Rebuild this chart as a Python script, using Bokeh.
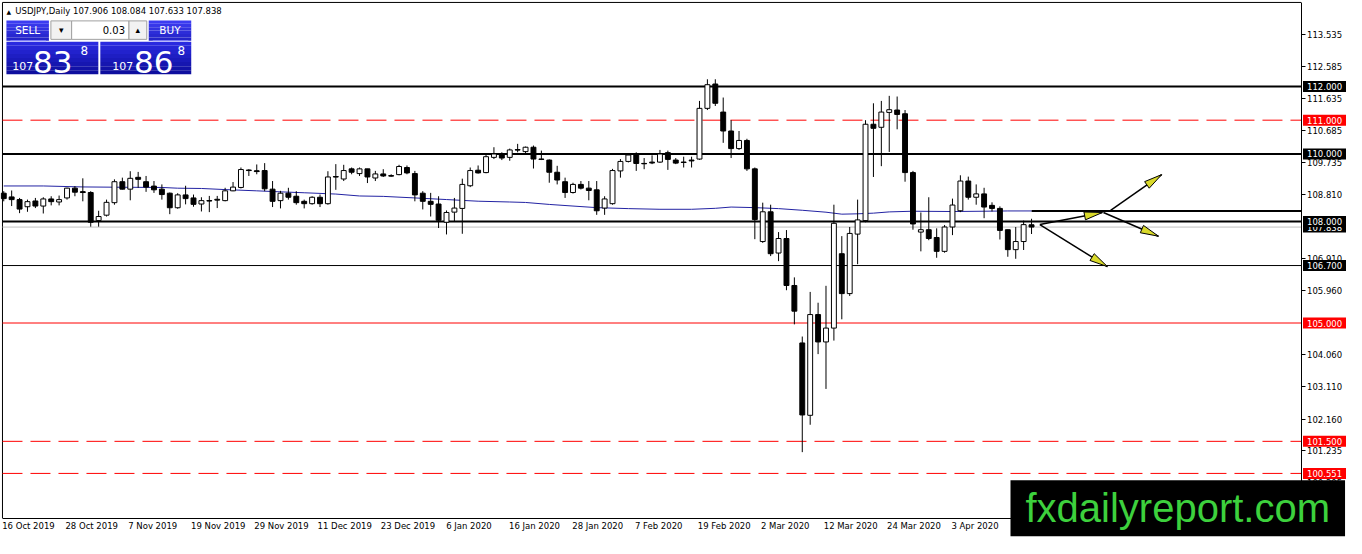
import numpy as np
from bokeh.plotting import figure
from bokeh.models import Range1d, FixedTicker, Label, NumeralTickFormatter
from bokeh.embed import file_html
from bokeh.resources import INLINE

# ---------------- data ----------------
dates = ["16 Oct 2019", "28 Oct 2019", "7 Nov 2019", "19 Nov 2019", "29 Nov 2019",
         "11 Dec 2019", "23 Dec 2019", "6 Jan 2020", "16 Jan 2020", "28 Jan 2020",
         "7 Feb 2020", "19 Feb 2020", "2 Mar 2020", "12 Mar 2020", "24 Mar 2020", "3 Apr 2020"]
date_bars = [0, 8, 16, 24, 32, 40, 48, 56, 64, 72, 80, 88, 96, 104, 112, 120]

open_ = [108.84, 108.73, 108.65, 108.44, 108.61, 108.46, 108.67, 108.58, 108.70, 108.99,
         108.88, 108.86, 108.03, 108.19, 108.56, 109.18, 108.96, 109.31, 109.18, 109.05,
         108.96, 108.84, 108.41, 108.79, 108.70, 108.52, 108.62, 108.64, 108.62, 108.91,
         109.01, 109.52, 109.50, 109.51, 108.96, 108.62, 108.84, 108.75, 108.60, 108.53,
         108.72, 108.53, 109.33, 109.26, 109.56, 109.42, 109.56, 109.29, 109.41, 109.35,
         109.39, 109.60, 109.42, 108.84, 108.60, 108.52, 107.98, 108.28, 108.39, 109.06,
         109.52, 109.45, 109.90, 110.00, 109.90, 110.12, 110.07, 110.20, 109.84, 109.82,
         109.46, 109.18, 108.86, 109.10, 108.99, 108.94, 108.40, 108.53, 109.50, 109.78,
         109.99, 109.72, 109.74, 109.76, 110.04, 109.82, 109.75, 109.80, 109.85, 111.35,
         112.07, 111.24, 110.68, 110.16, 110.40, 109.56, 107.41, 108.29, 107.07, 107.50,
         106.11, 104.41, 102.27, 105.25, 104.44, 104.85, 107.05, 105.87, 107.63, 108.03,
         110.88, 110.79, 111.23, 111.30, 111.19, 109.45, 107.69, 107.76, 107.53, 107.12,
         107.84, 108.32, 109.20, 108.72, 108.82, 108.48, 108.39, 107.76, 107.17, 107.41,
         107.906]
high = [108.90, 108.92, 108.70, 108.65, 108.70, 108.72, 108.75, 108.77, 109.00, 109.05,
        109.28, 108.90, 108.32, 108.65, 109.25, 109.30, 109.49, 109.47, 109.35, 109.20,
        109.10, 108.86, 108.84, 109.06, 108.80, 108.72, 108.76, 108.76, 109.00, 109.17,
        109.60, 109.55, 109.69, 109.73, 109.20, 108.91, 109.00, 108.90, 108.65, 108.75,
        108.80, 109.49, 109.70, 109.68, 109.60, 109.60, 109.56, 109.50, 109.55, 109.40,
        109.68, 109.66, 109.50, 108.90, 108.85, 108.75, 108.33, 108.70, 109.27, 109.60,
        109.66, 110.00, 110.20, 110.05, 110.16, 110.30, 110.22, 110.25, 110.10, 109.84,
        109.65, 109.30, 109.15, 109.20, 109.20, 109.20, 108.75, 109.56, 109.85, 110.02,
        110.05, 109.88, 109.96, 110.12, 110.10, 109.88, 109.92, 109.92, 111.57, 112.21,
        112.21, 111.67, 111.00, 110.68, 110.45, 109.60, 108.56, 108.50, 107.69, 107.75,
        106.35, 104.60, 105.92, 105.60, 106.10, 108.50, 107.57, 107.84, 108.65, 111.00,
        111.50, 111.57, 111.72, 111.70, 111.30, 109.50, 108.27, 108.72, 107.80, 107.90,
        108.68, 109.37, 109.33, 109.10, 109.00, 108.57, 108.45, 107.76, 107.84, 108.03,
        108.084]
low = [108.60, 108.46, 108.25, 108.29, 108.40, 108.24, 108.48, 108.48, 108.65, 108.75,
       108.60, 107.85, 107.85, 108.15, 108.50, 108.95, 108.63, 109.00, 108.88, 108.85,
       108.65, 108.22, 108.38, 108.51, 108.44, 108.30, 108.28, 108.40, 108.60, 108.90,
       108.98, 109.35, 109.40, 108.90, 108.43, 108.39, 108.65, 108.50, 108.39, 108.50,
       108.43, 108.50, 108.94, 109.20, 109.40, 109.35, 109.14, 109.20, 109.32, 109.33,
       109.37, 109.40, 108.60, 108.36, 108.15, 107.81, 107.62, 108.00, 107.64, 109.02,
       109.42, 109.43, 109.85, 109.82, 109.80, 110.05, 110.00, 109.57, 109.82, 109.15,
       109.10, 108.70, 108.83, 108.95, 108.63, 108.20, 108.20, 108.50, 109.30, 109.75,
       109.50, 109.55, 109.70, 109.74, 109.53, 109.70, 109.60, 109.60, 109.83, 111.30,
       111.42, 110.33, 109.88, 110.12, 109.50, 107.48, 107.37, 106.98, 106.83, 105.97,
       104.96, 101.18, 101.99, 104.08, 103.05, 104.48, 105.11, 105.80, 106.74, 107.98,
       109.32, 109.64, 110.06, 110.73, 109.18, 107.76, 107.12, 107.45, 106.93, 107.08,
       107.60, 108.28, 108.65, 108.50, 108.10, 108.30, 107.47, 106.96, 106.90, 107.16,
       107.633]
close = [108.68, 108.65, 108.37, 108.59, 108.46, 108.67, 108.59, 108.65, 108.99, 108.87,
         108.86, 107.98, 108.15, 108.57, 109.18, 108.96, 109.28, 109.25, 109.02, 108.94,
         108.80, 108.41, 108.79, 108.68, 108.51, 108.62, 108.61, 108.66, 108.91, 109.02,
         109.54, 109.51, 109.48, 108.97, 108.60, 108.84, 108.72, 108.56, 108.53, 108.72,
         108.53, 109.32, 109.32, 109.51, 109.46, 109.56, 109.32, 109.41, 109.35, 109.36,
         109.63, 109.44, 108.79, 108.60, 108.51, 108.04, 108.27, 108.40, 109.10, 109.51,
         109.44, 109.92, 110.00, 109.88, 110.12, 110.13, 110.20, 109.85, 109.85, 109.46,
         109.23, 108.86, 109.10, 108.99, 108.92, 108.32, 108.67, 109.51, 109.78, 109.97,
         109.72, 109.71, 109.76, 110.00, 109.84, 109.73, 109.76, 109.82, 111.35, 112.05,
         111.50, 110.68, 110.16, 110.40, 109.56, 108.06, 108.29, 107.05, 107.50, 106.11,
         105.35, 102.28, 105.25, 104.44, 104.85, 107.95, 105.87, 107.65, 108.05, 110.88,
         110.76, 111.24, 111.31, 111.17, 109.45, 107.93, 107.76, 107.50, 107.12, 107.84,
         108.49, 109.20, 108.72, 108.82, 108.43, 108.39, 107.74, 107.17, 107.41, 107.91,
         107.838]

ma_bar = [0, 5, 10, 15, 20, 22, 25, 28, 32, 35, 38, 42, 45, 48, 52, 56, 60, 64, 66, 69,
          72, 75, 79, 83, 87, 90, 92, 95, 98, 101, 104, 106, 108, 110, 112, 115, 120, 124,
          127, 130]
ma_val = [109.054, 109.054, 109.025, 109.016, 109.010, 108.988, 108.980, 108.947, 108.910,
          108.880, 108.853, 108.815, 108.758, 108.746, 108.700, 108.652, 108.603, 108.580,
          108.566, 108.508, 108.460, 108.413, 108.384, 108.364, 108.364, 108.393, 108.430,
          108.413, 108.384, 108.335, 108.278, 108.220, 108.230, 108.250, 108.287, 108.307,
          108.298, 108.307, 108.315, 108.315]

y_ticks = [113.535, 112.585, 111.635, 110.685, 109.735, 108.810, 106.910, 105.960,
           104.060, 103.110, 102.160, 101.235, 100.295]

# horizontal levels: price, line colour, width, dash, label box colour
levels = [
    (107.838, "#c0c0c0", 1, "solid", "black"),
    (112.000, "black", 2, "solid", "black"),
    (111.000, "red", 1, "20 8", "red"),
    (110.000, "black", 2, "solid", "black"),
    (108.000, "black", 2, "solid", "black"),
    (106.700, "black", 1, "solid", "black"),
    (105.000, "red", 1, "solid", "red"),
    (101.500, "red", 1, "20 8", "red"),
    (100.551, "red", 1, "20 8", "red"),
]
ray_start_bar = 130
ray_price = 108.315

arrow_x0 = [131.05, 131.05, 140.0, 139.09]
arrow_y0 = [107.913, 107.913, 108.335, 108.269]
arrow_x1 = [138.96, 139.59, 146.46, 146.05]
arrow_y1 = [108.269, 106.669, 109.39, 107.568]

header = "USDJPY,Daily  107.906 108.084 107.633 107.838"
lot = "0.03"
bid = ("107", "83", "8")
ask = ("107", "86", "8")

# ---------------- helpers (reference pixel -> data) ----------------
def rx(X):
    return (X - 3.3) / 8.0

def ry(Y):
    return 113.535 - (Y - 35.0) / 34.81

W, H = 1346, 538
REF_W, REF_H = 1362, 554
x0r, x1r = rx(0), rx(REF_W)
y0r, y1r = ry(REF_H), ry(0)
LEFT, RIGHT, TOP, BOTTOM = 2, 1316, 2, 533   # chart box in reference pixels

p = figure(width=W, height=H, x_range=Range1d(x0r, x1r), y_range=Range1d(y0r, y1r),
           output_backend="svg", toolbar_location=None, y_axis_location="right",
           min_border=0)
p.min_border_left = 0
p.min_border_right = 0
p.min_border_top = 0
p.min_border_bottom = 0
p.background_fill_color = "white"
p.border_fill_color = "white"
p.outline_line_color = None
p.xgrid.visible = False
p.ygrid.visible = False

FONT = "DejaVu Sans"
CHAR_W = 4.55  # approx. reference px per char of the date labels

# x axis (drawn at the chart's bottom edge)
x_ticks = [b + len(d) * CHAR_W / 2 / 8.0 for b, d in zip(date_bars, dates)]
p.xaxis.fixed_location = ry(BOTTOM)
p.xaxis.bounds = (rx(LEFT), rx(RIGHT))
p.xaxis.ticker = FixedTicker(ticks=x_ticks)
p.xaxis.major_label_overrides = {t: d for t, d in zip(x_ticks, dates)}
p.xaxis.major_label_text_font = FONT
p.xaxis.major_label_text_font_size = "8.5px"
p.xaxis.major_label_text_color = "black"
p.xaxis.major_tick_out = 0
p.xaxis.major_tick_in = 0
p.xaxis.minor_tick_line_color = None
p.xaxis.axis_line_color = "black"
p.xaxis.major_label_standoff = 3

# y axis (drawn at the chart's right edge)
p.yaxis.fixed_location = rx(RIGHT)
p.yaxis.bounds = (ry(BOTTOM), ry(TOP))
p.yaxis.ticker = FixedTicker(ticks=y_ticks)
p.yaxis.formatter = NumeralTickFormatter(format="0.000")
p.yaxis.major_label_text_font = FONT
p.yaxis.major_label_text_font_size = "8.5px"
p.yaxis.major_label_text_color = "black"
p.yaxis.major_tick_out = 4
p.yaxis.major_tick_in = 0
p.yaxis.minor_tick_line_color = None
p.yaxis.axis_line_color = "black"
p.yaxis.major_label_standoff = 2

# chart box: top and left edges
p.segment(x0=[rx(LEFT), rx(LEFT)], y0=[ry(TOP), ry(TOP)], x1=[rx(RIGHT), rx(LEFT)],
          y1=[ry(TOP), ry(BOTTOM)], line_color="black", line_width=1)

# ---------------- levels ----------------
for price, col, lw, dash, _ in levels:
    p.segment(x0=[rx(LEFT)], y0=[price], x1=[rx(RIGHT)], y1=[price],
              line_color=col, line_width=lw, line_dash=dash)
p.segment(x0=[ray_start_bar], y0=[ray_price], x1=[rx(RIGHT)], y1=[ray_price],
          line_color="black", line_width=2)

# ---------------- moving average ----------------
p.line(ma_bar, ma_val, line_color="#2323a3", line_width=1)

# ---------------- candles ----------------
o = np.array(open_); h = np.array(high); l = np.array(low); c = np.array(close)
idx = np.arange(len(o))
top = np.maximum(o, c)
bot = np.minimum(o, c)
fills = ["white" if cc >= oo else "black" for oo, cc in zip(o, c)]
p.segment(x0=idx, y0=l, x1=idx, y1=h, line_color="black", line_width=1)
p.vbar(x=idx, width=0.62, top=top, bottom=bot, fill_color=fills,
       line_color="black", line_width=1)
doji = np.abs(c - o) < 0.03
p.segment(x0=idx[doji] - 0.31, y0=o[doji], x1=idx[doji] + 0.31, y1=o[doji],
          line_color="black", line_width=1)

# ---------------- arrows ----------------
sx = W / (x1r - x0r)
sy = H / (y1r - y0r)
p.segment(x0=arrow_x0, y0=arrow_y0, x1=arrow_x1, y1=arrow_y1,
          line_color="black", line_width=1.5)
hx, hy = [], []
for ax0, ay0, ax1, ay1 in zip(arrow_x0, arrow_y0, arrow_x1, arrow_y1):
    dx = (ax1 - ax0) * sx
    dy = (ay1 - ay0) * sy
    n = np.hypot(dx, dy)
    ux, uy = dx / n, dy / n
    L, hw = 18.0, 4.0
    bx, by = ax1 * sx - L * ux, ay1 * sy - L * uy
    pts = [(ax1 * sx, ay1 * sy), (bx - hw * uy, by + hw * ux), (bx + hw * uy, by - hw * ux)]
    hx.append([q[0] / sx for q in pts])
    hy.append([q[1] / sy for q in pts])
p.patches(hx, hy, fill_color="#d9d92a", line_color="black", line_width=1)

# ---------------- price labels on the price scale ----------------
for price, _, _, _, bg in levels:
    p.add_layout(Label(x=rx(1318), y=price, text="%.3f" % price, text_color="white",
                       text_font=FONT, text_font_size="8.5px", text_baseline="middle",
                       text_align="left", background_fill_color=bg, padding=(4, 2)))

# ---------------- header / one-click panel ----------------
p.add_layout(Label(x=rx(6), y=ry(11), text="▲", text_font=FONT, text_font_size="6px",
                   text_baseline="middle", text_color="black"))
p.add_layout(Label(x=rx(15), y=ry(11), text=header, text_font=FONT, text_font_size="8.5px",
                   text_baseline="middle", text_color="black"))

def box(Xl, Xr, Yt, Yb, c1, c2=None, strips=1, line=None):
    c2 = c2 or c1
    a = np.array([int(c1[i:i + 2], 16) for i in (1, 3, 5)], float)
    b = np.array([int(c2[i:i + 2], 16) for i in (1, 3, 5)], float)
    for k in range(strips):
        t = k / max(strips - 1, 1)
        col = "#%02x%02x%02x" % tuple(int(v) for v in (a + (b - a) * t))
        y_t = Yt + (Yb - Yt) * k / strips
        y_b = Yt + (Yb - Yt) * (k + 1) / strips
        p.quad(left=[rx(Xl)], right=[rx(Xr)], top=[ry(y_t)], bottom=[ry(y_b)],
               fill_color=col, line_color=None)
    if line:
        p.quad(left=[rx(Xl)], right=[rx(Xr)], top=[ry(Yt)], bottom=[ry(Yb)],
               fill_color=None, line_color=line, line_width=1)

box(6, 49, 20.5, 41.5, "#3c3cf2", "#2424c8", 6)
box(150, 193, 20.5, 41.5, "#3c3cf2", "#2424c8", 6)
box(6, 99, 42.5, 76, "#2a2ae0", "#0e0e9e", 8)
box(101, 193, 42.5, 76, "#2a2ae0", "#0e0e9e", 8)
box(51, 72, 21, 40, "#f2f2f2", line="#a0a0a0")
box(72, 130, 21, 40, "#ffffff", line="#a0a0a0")
box(130, 148, 21, 40, "#f2f2f2", line="#a0a0a0")
p.segment(x0=[rx(10), rx(154)], y0=[ry(41.5)] * 2, x1=[rx(46), rx(190)], y1=[ry(41.5)] * 2,
          line_color="#8c8cff", line_width=1)

def lab(X, Y, t, size, color="white", align="left", base="middle"):
    p.add_layout(Label(x=rx(X), y=ry(Y), text=t, text_font=FONT, text_font_size=size,
                       text_color=color, text_align=align, text_baseline=base))

lab(27.5, 30.5, "SELL", "10.5px", align="center")
lab(171.5, 30.5, "BUY", "10.5px", align="center")
lab(61.5, 30.5, "▾", "9px", color="black", align="center")
lab(139, 30.5, "▴", "9px", color="black", align="center")
lab(126, 30.5, lot, "10px", color="black", align="right")
lab(12, 67, bid[0], "11px", base="alphabetic")
lab(33, 63, bid[1], "31px", base="alphabetic")
lab(81, 47, bid[2], "12px", base="top")
lab(113, 67, ask[0], "11px", base="alphabetic")
lab(135, 63, ask[1], "31px", base="alphabetic")
lab(179, 47, ask[2], "12px", base="top")

# ---------------- watermark ----------------
p.add_layout(Label(x=rx(1022), y=ry(494), text="fxdailyreport.com", text_font="Liberation Sans",
                   text_font_size="40px", text_color="#3dd13d", text_baseline="top",
                   text_align="left", background_fill_color="black", padding=(15, 6)))

open("out.html", "w").write(file_html(p, INLINE))
